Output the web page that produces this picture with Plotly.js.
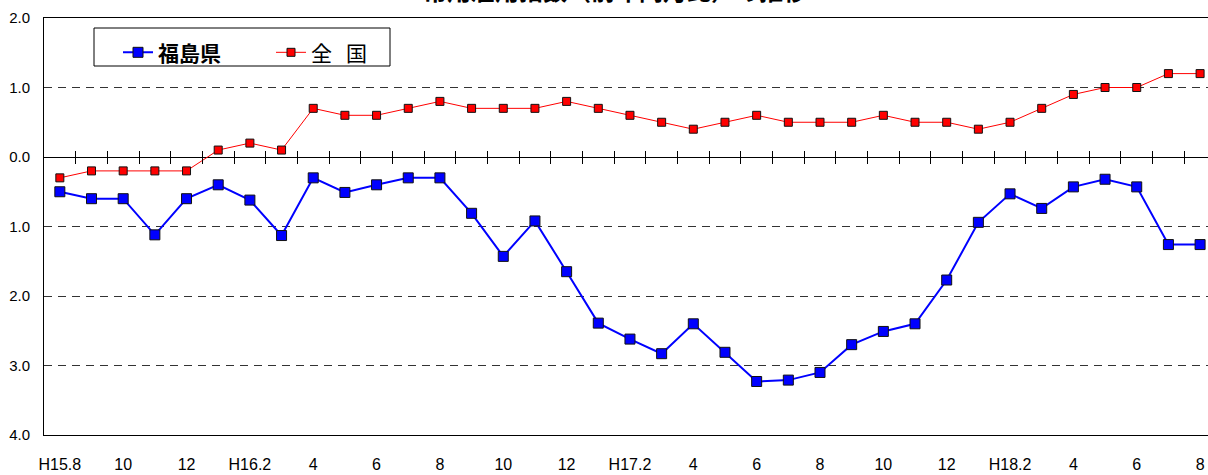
<!DOCTYPE html>
<html>
<head>
<meta charset="utf-8">
<script src="https://cdn.plot.ly/plotly-3.0.1.min.js"></script>
<style>html,body{margin:0;padding:0;background:#fff;}#chart{width:1208px;height:475px;}</style>
</head>
<body>
<div id="chart"></div>
<script>
const months = ['H15.8','H15.9','H15.10','H15.11','H15.12','H16.1','H16.2','H16.3','H16.4','H16.5','H16.6','H16.7','H16.8','H16.9','H16.10','H16.11','H16.12','H17.1','H17.2','H17.3','H17.4','H17.5','H17.6','H17.7','H17.8','H17.9','H17.10','H17.11','H17.12','H18.1','H18.2','H18.3','H18.4','H18.5','H18.6','H18.7','H18.8'];
const fukushima = [-0.50,-0.60,-0.60,-1.12,-0.60,-0.40,-0.62,-1.13,-0.30,-0.51,-0.40,-0.30,-0.30,-0.81,-1.43,-0.92,-1.65,-2.39,-2.62,-2.83,-2.40,-2.81,-3.23,-3.21,-3.10,-2.70,-2.51,-2.40,-1.77,-0.94,-0.53,-0.74,-0.43,-0.32,-0.43,-1.26,-1.26];
const national = [-0.3,-0.2,-0.2,-0.2,-0.2,0.1,0.2,0.1,0.7,0.6,0.6,0.7,0.8,0.7,0.7,0.7,0.8,0.7,0.6,0.5,0.4,0.5,0.6,0.5,0.5,0.5,0.6,0.5,0.5,0.4,0.5,0.7,0.9,1.0,1.0,1.2,1.2];
const tickMonths = ['H15.8','H15.10','H15.12','H16.2','H16.4','H16.6','H16.8','H16.10','H16.12','H17.2','H17.4','H17.6','H17.8','H17.10','H17.12','H18.2','H18.4','H18.6','H18.8'];
const tickLabels = ['H15.8','10','12','H16.2','4','6','8','10','12','H17.2','4','6','8','10','12','H18.2','4','6','8'];
const yTickVals = [-4,-3,-2,-1,0,1,2];
const yTickText = ['4.0','3.0','2.0','1.0','0.0','1.0','2.0'];
const seriesNames = ['<b>福島県</b>','全\u00a0\u00a0\u00a0国'];
const chartTitle = '常用雇用指数（前年同月比）の推移';

const xRange = [-0.5, months.length - 0.75];
const boundaries = months.slice(1).map((m, i) => i + 0.5);

const traces = [
  {x: months, y: fukushima, name: seriesNames[0], type: 'scatter', mode: 'lines+markers',
   line: {color: '#0000FF', width: 2},
   marker: {symbol: 'square', size: 10, color: '#0000FF', line: {color: '#111', width: 1}}},
  {x: months, y: national, name: seriesNames[1], type: 'scatter', mode: 'lines+markers',
   line: {color: '#FF0000', width: 1},
   marker: {symbol: 'square', size: 8, color: '#FF0000', line: {color: '#111', width: 1}}},
  {x: [], y: [], xaxis: 'x2', yaxis: 'y', showlegend: false, hoverinfo: 'skip'},
  {x: [], y: [], xaxis: 'x3', yaxis: 'y', showlegend: false, hoverinfo: 'skip'}
];

const baseFont = {family: '"Liberation Sans", Arial, sans-serif', color: '#000'};
const layout = {
  width: 1208, height: 475,
  margin: {l: 44, r: 0, t: 18, b: 40, pad: 0},
  paper_bgcolor: '#fff', plot_bgcolor: '#fff',
  showlegend: true,
  font: baseFont,
  xaxis: {
    type: 'category', range: xRange,
    tickmode: 'array', tickvals: tickMonths, ticktext: tickLabels,
    ticks: '', showgrid: false, zeroline: false,
    showline: true, linecolor: '#000', linewidth: 1, mirror: true,
    tickfont: Object.assign({size: 16}, baseFont),
    ticklabelstandoff: 15
  },
  xaxis2: {
    type: 'linear', overlaying: 'x', anchor: 'free', position: 4/6, range: xRange,
    tickmode: 'array', tickvals: boundaries, ticks: 'outside', ticklen: 6, tickcolor: '#000', tickwidth: 1,
    showticklabels: false, showgrid: false, zeroline: false, showline: false
  },
  xaxis3: {
    type: 'linear', overlaying: 'x', anchor: 'free', position: 4/6, range: xRange,
    tickmode: 'array', tickvals: boundaries, ticks: 'inside', ticklen: 6, tickcolor: '#000', tickwidth: 1,
    showticklabels: false, showgrid: false, zeroline: false, showline: false
  },
  yaxis: {
    range: [-4, 2], tickmode: 'array', tickvals: yTickVals, ticktext: yTickText,
    showgrid: true, gridcolor: '#333', gridwidth: 1, griddash: '8px,6px',
    zeroline: true, zerolinecolor: '#000', zerolinewidth: 1,
    showline: true, linecolor: '#000', linewidth: 1,
    ticks: '', tickfont: Object.assign({size: 15}, baseFont), ticklabelstandoff: 10
  },
  legend: {
    orientation: 'h', x: (118 - 44) / 1164, xanchor: 'left', y: 0.966, yanchor: 'top',
    bgcolor: 'rgba(0,0,0,0)', borderwidth: 0, entrywidth: 108,
    font: {family: '"Noto Sans CJK JP", sans-serif', size: 21, color: '#000'}
  },
  shapes: [{
    type: 'rect', xref: 'paper', yref: 'paper',
    x0: (94 - 44) / 1164, x1: (390 - 44) / 1164, y0: (435 - 66) / 417, y1: (435 - 28) / 417,
    line: {color: '#000', width: 1}, fillcolor: '#fff', layer: 'above'
  }],
  annotations: [{
    text: '<b>' + chartTitle + '</b>', xref: 'paper', yref: 'paper',
    x: (615 - 44) / 1164, y: (435 + 10) / 417, xanchor: 'center', yanchor: 'middle', showarrow: false,
    font: {family: '"Noto Sans CJK JP", sans-serif', size: 24, color: '#000'}
  }]
};

Plotly.newPlot('chart', traces, layout, {displayModeBar: false, staticPlot: true});
</script>
</body>
</html>
